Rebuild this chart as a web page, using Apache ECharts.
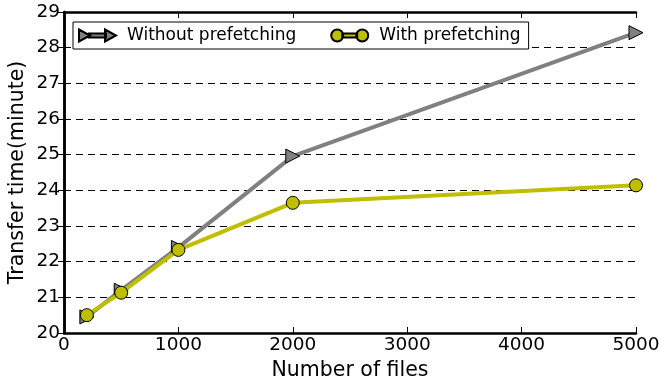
<!DOCTYPE html>
<html><head><meta charset="utf-8">
<script src="https://cdn.jsdelivr.net/npm/echarts@6/dist/echarts.min.js"></script>
<style>html,body{margin:0;padding:0;background:#fff}#c{width:662px;height:383px}</style>
</head><body><div id="c"></div>
<script>
const fileCounts = [200, 500, 1000, 2000, 5000];
const withoutPrefetch = [20.45, 21.2, 22.4, 24.96, 28.42];
const withPrefetch = [20.5, 21.13, 22.33, 23.65, 24.14];
const xTicks = [0, 1000, 2000, 3000, 4000, 5000];
const yTicks = [20, 21, 22, 23, 24, 25, 26, 27, 28, 29];

const chart = echarts.init(document.getElementById('c'));
const font = 'DejaVu Sans';
const axBase = {
  axisLine: {show: true, lineStyle: {color: '#000', width: 2.5}},
  axisTick: {show: true, inside: true, length: 6, lineStyle: {color: '#000', width: 1}},
};
const triIcon = 'path://M0,0 L11,6 L0,12 Z M10,4 H27 V8 H10 Z M26,0 L37,6 L26,12 Z';
const circIcon = 'path://M6,0 A6,6 0 1,1 6,12 A6,6 0 1,1 6,0 Z M11,4 H26 V8 H11 Z M31,0 A6,6 0 1,1 31,12 A6,6 0 1,1 31,0 Z';
chart.setOption({
  animation: false,
  textStyle: {fontFamily: font},
  grid: {left: 64, right: 26, top: 12, bottom: 50, show: false, containLabel: false, outerBoundsMode: 'none'},
  legend: {
    left: 73, top: 22,
    padding: [5, 8, 5, 5],
    itemGap: 34,
    itemWidth: 37, itemHeight: 12,
    borderColor: '#000', borderWidth: 1, borderRadius: 0,
    backgroundColor: '#fff',
    textStyle: {fontFamily: font, fontSize: 17, color: '#000', padding: [0, 0, 0, 6]},
    data: [{name: 'Without prefetching', icon: triIcon}, {name: 'With prefetching', icon: circIcon}]
  },
  xAxis: [
    Object.assign({}, axBase, {
      type: 'value', min: 0, max: 5000, interval: 1000,
      name: 'Number of files', nameLocation: 'middle', nameGap: 27, nameMoveOverlap: false,
      nameTextStyle: {fontFamily: font, fontSize: 20.5, color: '#000', verticalAlign: 'top'},
      axisLabel: {fontFamily: font, fontSize: 18.5, color: '#000', margin: 3,
        formatter: v => xTicks.includes(v) ? String(v) : ''},
      splitLine: {show: false}
    }),
    Object.assign({}, axBase, {
      type: 'value', min: 0, max: 5000, interval: 1000, position: 'top',
      axisLabel: {show: false}, splitLine: {show: false}
    })
  ],
  yAxis: [
    Object.assign({}, axBase, {
      type: 'value', min: 20, max: 29, interval: 1,
      name: 'Transfer time(minute)', nameLocation: 'middle', nameGap: 36, nameMoveOverlap: false,
      nameTextStyle: {fontFamily: font, fontSize: 20.5, color: '#000', verticalAlign: 'bottom'},
      axisLabel: {fontFamily: font, fontSize: 18.5, color: '#000', margin: 4,
        formatter: v => yTicks.includes(v) ? String(v) : ''},
      splitLine: {show: true, lineStyle: {color: '#000', type: [7, 5], width: 1}}
    }),
    Object.assign({}, axBase, {
      type: 'value', min: 20, max: 29, interval: 1, position: 'right',
      axisLabel: {show: false}, splitLine: {show: false}
    })
  ],
  series: [
    {
      name: 'Without prefetching', type: 'line',
      data: fileCounts.map((x, i) => [x, withoutPrefetch[i]]),
      symbol: 'triangle', symbolRotate: -90, symbolSize: 14,
      lineStyle: {color: '#808080', width: 4},
      itemStyle: {color: '#808080', borderColor: '#000', borderWidth: 1},
      z: 2
    },
    {
      name: 'With prefetching', type: 'line',
      data: fileCounts.map((x, i) => [x, withPrefetch[i]]),
      symbol: 'circle', symbolSize: 13,
      lineStyle: {color: '#bfbf00', width: 4},
      itemStyle: {color: '#bfbf00', borderColor: '#000', borderWidth: 1},
      z: 3
    }
  ]
});
</script></body></html>
